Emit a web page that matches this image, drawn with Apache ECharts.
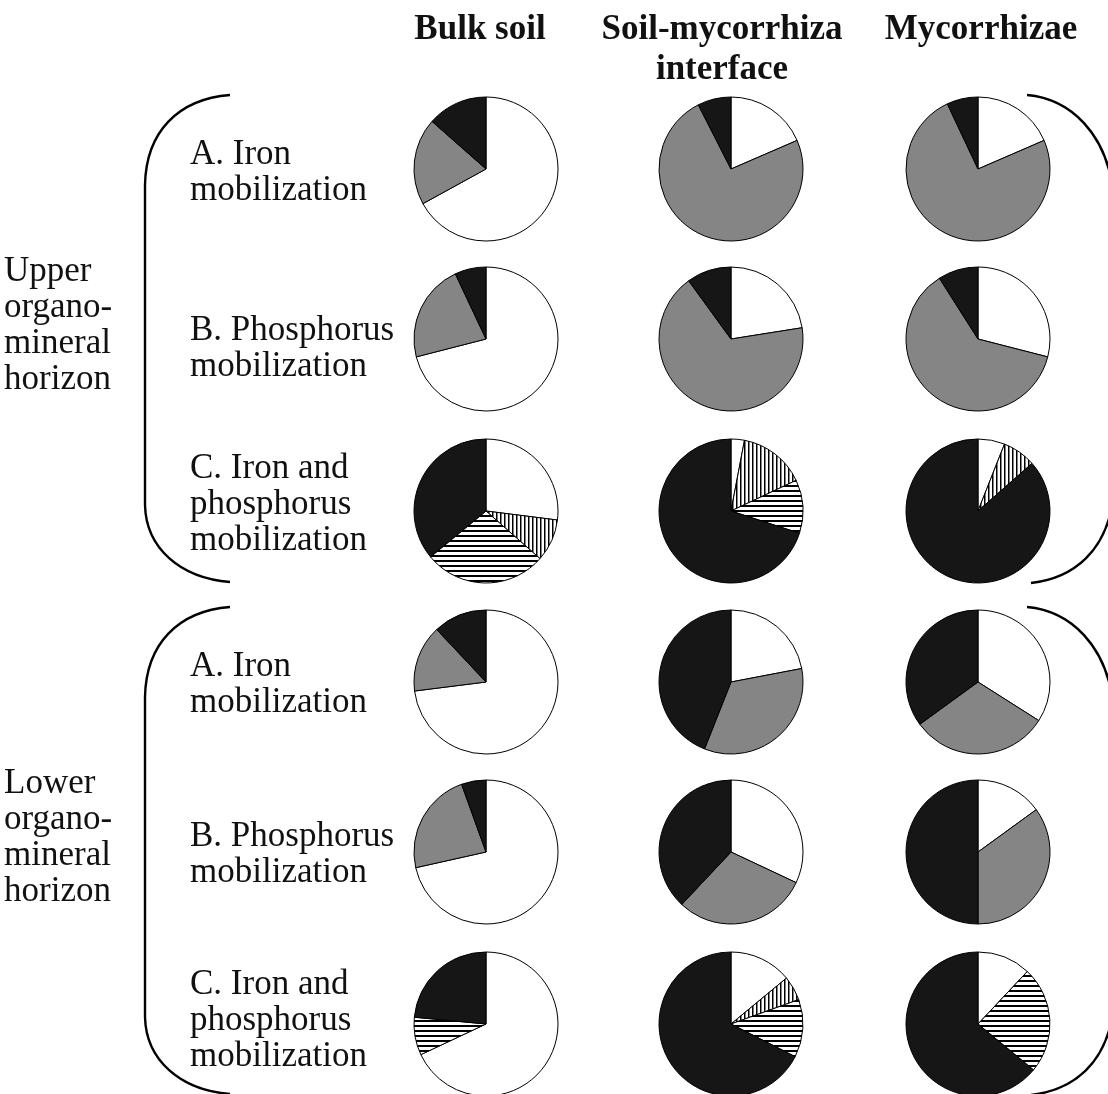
<!DOCTYPE html>
<html>
<head>
<meta charset="utf-8">
<script src="https://cdn.jsdelivr.net/npm/echarts@6/dist/echarts.min.js"></script>
<style>
  html, body { margin: 0; padding: 0; background: #fff; }
  #chart { width: 1108px; height: 1094px; }
</style>
</head>
<body>
<div id="chart"></div>
<script>
// column headers and row labels
const columns = ['Bulk soil', 'Soil-mycorrhiza\ninterface', 'Mycorrhizae']
const horizons = ['Upper\norgano-\nmineral\nhorizon', 'Lower\norgano-\nmineral\nhorizon']
const treatments = ['A. Iron\nmobilization', 'B. Phosphorus\nmobilization', 'C. Iron and\nphosphorus\nmobilization']

// slice order, clockwise from 12 o'clock
const kindsAB = ['open', 'grey', 'black']
const kindsC = ['open', 'vertical', 'horizontal', 'black']

// shares (%) per column: bulk soil, interface, mycorrhizae
const upperIron = [[67, 19.5, 13.5], [18.5, 74, 7.5], [18.5, 74.5, 7]]
const upperPhos = [[71, 22, 7], [22.5, 67.5, 10], [29, 62, 9]]
const upperBoth = [[27, 9.5, 27.5, 36], [3, 15, 12, 70], [6, 7.5, 0, 86.5]]
const lowerIron = [[73, 15, 12], [22, 34, 44], [34, 31, 35]]
const lowerPhos = [[71.5, 23, 5.5], [32, 30, 38], [15, 35, 50]]
const lowerBoth = [[68, 0, 8.5, 23.5], [14, 5.5, 13, 67.5], [12, 0, 24, 64]]

const rows = [
  [upperIron, kindsAB], [upperPhos, kindsAB], [upperBoth, kindsC],
  [lowerIron, kindsAB], [lowerPhos, kindsAB], [lowerBoth, kindsC]
]

// layout
const colX = [486, 731, 978]
const rowY = [169, 339, 511, 682, 852, 1024]
const pieR = 72

function hatch(vertical) {
  const c = document.createElement('canvas')
  c.width = vertical ? 4 : 5
  c.height = vertical ? 4 : 5
  const ctx = c.getContext('2d')
  ctx.fillStyle = '#fff'
  ctx.fillRect(0, 0, c.width, c.height)
  ctx.fillStyle = '#000'
  if (vertical) ctx.fillRect(0, 0, 1.5, 4)
  else ctx.fillRect(0, 0, 5, 2)
  return c
}

const fills = {
  open: '#ffffff',
  grey: '#858585',
  black: '#161616',
  vertical: { image: hatch(true), repeat: 'repeat' },
  horizontal: { image: hatch(false), repeat: 'repeat' }
}

const series = []
rows.forEach(([values, kinds], r) => {
  values.forEach((shares, c) => {
    series.push({
      type: 'pie',
      center: [colX[c], rowY[r]],
      radius: pieR,
      startAngle: 90,
      clockwise: true,
      silent: true,
      label: { show: false },
      labelLine: { show: false },
      itemStyle: { borderColor: '#000', borderWidth: 1 },
      data: shares
        .map((v, i) => ({ value: v, name: kinds[i], itemStyle: { color: fills[kinds[i]] } }))
        .filter(d => d.value > 0)
    })
  })
})

const serif = '"Liberation Serif", "Times New Roman", serif'
const graphic = []

function textLines(str, x, y, font, align, step) {
  str.split('\n').forEach((line, i) => {
    graphic.push({
      type: 'text',
      x: x,
      y: y + i * step,
      silent: true,
      style: { text: line, font: font, fill: '#111', align: align, verticalAlign: 'middle' }
    })
  })
}

// headers
const headerX = [480, 722, 981]
columns.forEach((t, i) => textLines(t, headerX[i], 30, 'bold 35px ' + serif, 'center', 40))

// treatment labels (first line middle)
const treatY = [155, 331, 469, 667, 837, 985]
treatY.forEach((y, i) => textLines(treatments[i % 3], 190, y, '35px ' + serif, 'left', 36))

// horizon labels
textLines(horizons[0], 4, 272, '35px ' + serif, 'left', 36)
textLines(horizons[1], 4, 784, '35px ' + serif, 'left', 36)

// brackets
const bracketStyle = { fill: 'none', stroke: '#000', lineWidth: 2.4 }
function bracket(dy, left) {
  if (left) {
    graphic.push({ type: 'bezierCurve', silent: true, style: bracketStyle,
      shape: { x1: 230, y1: 95 + dy, cpx1: 178, cpy1: 99 + dy, cpx2: 146, cpy2: 132 + dy, x2: 145, y2: 185 + dy } })
    graphic.push({ type: 'line', silent: true, style: bracketStyle,
      shape: { x1: 145, y1: 185 + dy, x2: 145, y2: 505 + dy } })
    graphic.push({ type: 'bezierCurve', silent: true, style: bracketStyle,
      shape: { x1: 145, y1: 505 + dy, cpx1: 146, cpy1: 548 + dy, cpx2: 180, cpy2: 578 + dy, x2: 230, y2: 582 + dy } })
  } else {
    graphic.push({ type: 'bezierCurve', silent: true, style: bracketStyle,
      shape: { x1: 1027, y1: 95 + dy, cpx1: 1072, cpy1: 99 + dy, cpx2: 1106, cpy2: 135 + dy, x2: 1113, y2: 190 + dy } })
    graphic.push({ type: 'line', silent: true, style: bracketStyle,
      shape: { x1: 1113, y1: 190 + dy, x2: 1113, y2: 500 + dy } })
    graphic.push({ type: 'bezierCurve', silent: true, style: bracketStyle,
      shape: { x1: 1113, y1: 500 + dy, cpx1: 1106, cpy1: 550 + dy, cpx2: 1075, cpy2: 578 + dy, x2: 1031, y2: 583 + dy } })
  }
}
;[0, 512].forEach(dy => { bracket(dy, true); bracket(dy, false) })

const chart = echarts.init(document.getElementById('chart'))
chart.setOption({
  backgroundColor: '#fff',
  animation: false,
  graphic: graphic,
  series: series
})
</script>
</body>
</html>
